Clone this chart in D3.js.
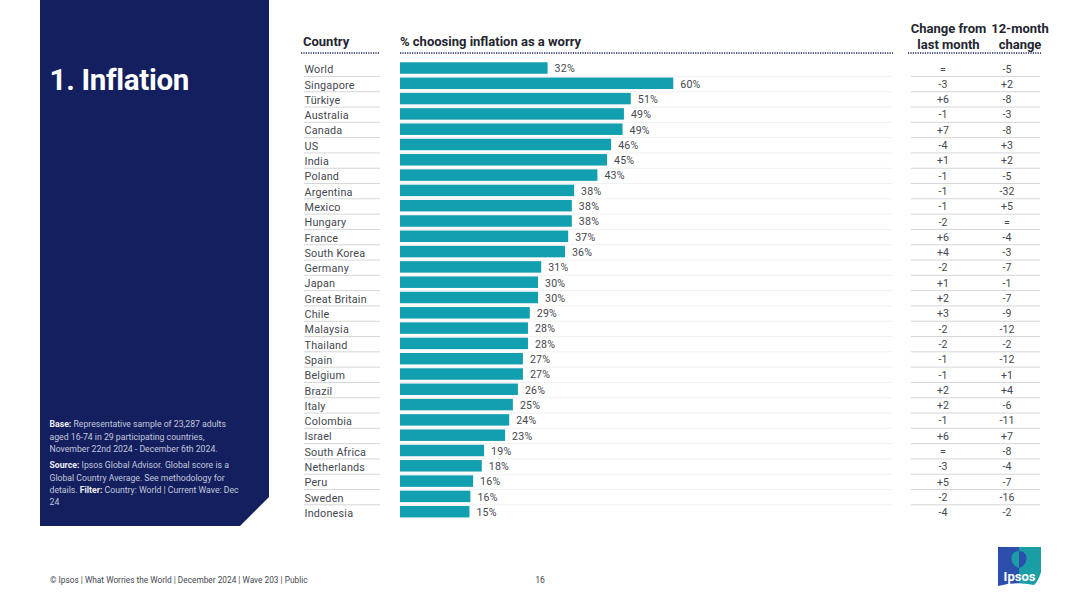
<!DOCTYPE html>
<html>
<head>
<meta charset="utf-8"/>
<script src="https://d3js.org/d3.v7.min.js"></script>
<style>
html,body{margin:0;padding:0;background:#fff;}
svg{display:block;}
text{font-family:Roboto,"Noto Sans",sans-serif;}
</style>
</head>
<body>
<svg id="chart" width="1080" height="607"></svg>
<script>
// data
var countries = ["World","Singapore","Türkiye","Australia","Canada","US","India","Poland","Argentina","Mexico","Hungary","France","South Korea","Germany","Japan","Great Britain","Chile","Malaysia","Thailand","Spain","Belgium","Brazil","Italy","Colombia","Israel","South Africa","Netherlands","Peru","Sweden","Indonesia"];
// bar lengths as measured, the printed labels are rounded differently in a few rows
var barValues = [32.3,59.8,50.5,49.0,48.7,46.2,45.3,43.2,38.1,37.6,37.6,36.8,36.1,30.9,30.2,30.2,28.4,28.0,28.0,26.9,26.9,25.8,24.7,23.9,23.0,18.4,17.9,16.0,15.4,15.2];
var pctLabels = ["32%","60%","51%","49%","49%","46%","45%","43%","38%","38%","38%","37%","36%","31%","30%","30%","29%","28%","28%","27%","27%","26%","25%","24%","23%","19%","18%","16%","16%","15%"];
var changeMonth = ["=","-3","+6","-1","+7","-4","+1","-1","-1","-1","-2","+6","+4","-2","+1","+2","+3","-2","-2","-1","-1","+2","+2","-1","+6","=","-3","+5","-2","-4"];
var changeYear = ["-5","+2","-8","-3","-8","+3","+2","-5","-32","+5","=","-4","-3","-7","-1","-7","-9","-12","-2","-12","+1","+4","-6","-11","+7","-8","-4","-7","-16","-2"];

var navy = "#141f5f", teal = "#129fb0", ink = "#23262f", grey = "#44474f";
var svg = d3.select("#chart");

var x = d3.scaleLinear().domain([0,100]).range([400,857]);
var y = d3.scaleBand().domain(countries).range([60.35,519.35]).paddingInner(0.25).paddingOuter(0.125);

// left panel
svg.append("path").attr("d","M40,0H269V497L240,526H40Z").attr("fill",navy);
svg.append("text").attr("x",49.5).attr("y",90).attr("fill","#fff")
  .attr("font-size",29.5).attr("font-weight",700).attr("letter-spacing",-0.3).text("1. Inflation");

var notes = [
  [[ "Base:",1],[" Representative sample of 23,287 adults",0]],
  [["aged 16-74 in 29 participating countries,",0]],
  [["November 22nd 2024 - December 6th 2024.",0]],
  [["Source:",1],[" Ipsos Global Advisor. Global score is a",0]],
  [["Global Country Average. See methodology for",0]],
  [["details. ",0],["Filter:",1],[" Country: World | Current Wave: Dec",0]],
  [["24",0]]
];
var noteY = [427,439.5,452,468,480.5,492.5,505];
notes.forEach(function(line,i){
  var t = svg.append("text").attr("x",49.5).attr("y",noteY[i]).attr("font-size",8.7).attr("fill","#c3c8dc");
  line.forEach(function(p){
    t.append("tspan").attr("font-weight",p[1]?700:400).attr("fill",p[1]?"#eceef5":"#c3c8dc").text(p[0]);
  });
});

// headers
function head(tx,ty,s,anchor){
  svg.append("text").attr("x",tx).attr("y",ty).attr("font-size",13).attr("font-weight",700)
    .attr("fill",ink).attr("text-anchor",anchor||"start").text(s);
}
head(303,46,"Country");
head(400,46,"% choosing inflation as a worry");
head(948.5,33,"Change from","middle");
head(948.5,49,"last month","middle");
head(1020,33,"12-month","middle");
head(1020,49,"change","middle");

[[301,380],[400,893],[908,1041]].forEach(function(d){
  svg.append("line").attr("x1",d[0]).attr("x2",d[1]).attr("y1",53).attr("y2",53)
    .attr("stroke",navy).attr("stroke-width",1.4).attr("stroke-dasharray","1.2 1.2");
});

// row rules, none under the last row
var rows = svg.append("g").selectAll("g").data(countries).join("g");
[[304,380,"#d6d6da"],[400,892,"#f1f1f3"],[911,1040,"#d6d6da"]].forEach(function(d){
  rows.filter(function(c,i){return i<countries.length-1;}).append("line")
    .attr("x1",d[0]).attr("x2",d[1])
    .attr("y1",function(c){return y(c)+y.bandwidth()+2.7;})
    .attr("y2",function(c){return y(c)+y.bandwidth()+2.7;})
    .attr("stroke",d[2]).attr("stroke-width",1);
});

// country names
rows.append("text").attr("x",304.5)
  .attr("y",function(c){return y(c)+y.bandwidth()/2+5.2;})
  .attr("font-size",10.8).attr("fill",grey).attr("letter-spacing",0.2)
  .text(function(c){return c;});

// bars
rows.append("rect").attr("x",x(0))
  .attr("y",function(c){return y(c);})
  .attr("height",y.bandwidth())
  .attr("width",function(c,i){return x(barValues[i])-x(0);})
  .attr("fill",teal);

rows.append("text")
  .attr("x",function(c,i){return x(barValues[i])+7;})
  .attr("y",function(c){return y(c)+y.bandwidth()/2+4.3;})
  .attr("font-size",10.6).attr("fill",grey).attr("letter-spacing",0.2)
  .text(function(c,i){return pctLabels[i];});

// change columns
function column(cx,vals){
  rows.append("text").attr("x",cx).attr("text-anchor","middle")
    .attr("y",function(c){return y(c)+y.bandwidth()/2+4.5;})
    .attr("font-size",10.6).attr("fill",grey)
    .text(function(c,i){return vals[i];});
}
column(943,changeMonth);
column(1007,changeYear);

// footer
svg.append("text").attr("x",50).attr("y",583).attr("font-size",8.3).attr("fill",grey)
  .text("© Ipsos | What Worries the World | December 2024 | Wave 203 | Public");
svg.append("text").attr("x",540).attr("y",583).attr("font-size",8.6).attr("fill",grey)
  .attr("text-anchor","middle").text("16");

// logo
var defs = svg.append("defs");
defs.append("clipPath").attr("id","logoClip").append("path")
  .attr("d","M998,547H1041V572Q1038,582 1034,585Q1015,581 998,586Z");
var logo = svg.append("g").attr("clip-path","url(#logoClip)");
logo.append("rect").attr("x",998).attr("y",547).attr("width",21).attr("height",40).attr("fill","#2c4fae");
logo.append("rect").attr("x",1019).attr("y",547).attr("width",22).attr("height",40).attr("fill","#1a9ea6");
logo.append("path").attr("d","M1019,551C1009,551 1009,565 1019,568Z").attr("fill","#1a9ea6");
logo.append("path").attr("d","M1019,551C1029,551 1029,565 1019,568Z").attr("fill","#2c4fae");
svg.append("text").attr("x",1019.5).attr("y",580.5).attr("text-anchor","middle")
  .attr("font-size",13).attr("font-weight",700).attr("fill","#fff").text("Ipsos");
</script>
</body>
</html>
